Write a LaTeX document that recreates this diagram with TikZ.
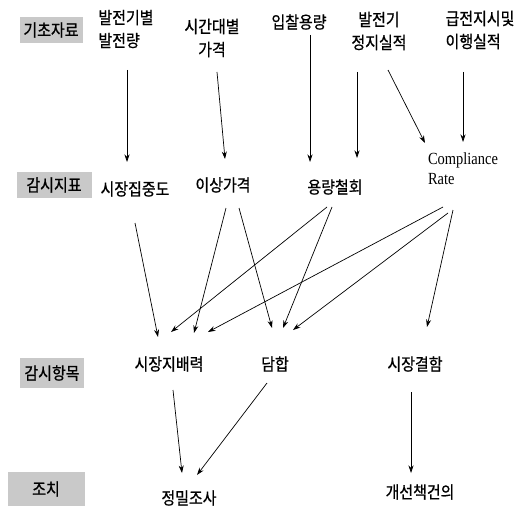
\documentclass[tikz,border=0pt]{standalone}
\usepackage{fontspec}
\usetikzlibrary{arrows.meta}
\newfontfamily\kr[FakeStretch=0.88,FakeBold=0.8]{Noto Sans CJK KR}
\newfontfamily\rom[FakeStretch=0.85]{Liberation Serif}

\begin{document}
\begin{tikzpicture}[x=1pt,y=-1pt,
    lbl/.style={fill=gray!42, inner sep=0pt, font=\kr\fontsize{17}{22}\selectfont},
    txt/.style={inner sep=0pt, font=\kr\fontsize{17}{23}\selectfont},
    arr/.style={-{Stealth[length=7.5pt,width=5pt]}, line width=0.7pt}]
      \useasboundingbox (0,0) rectangle (521,508);
        % row labels
      \node[lbl, minimum width=63pt, minimum height=26pt] (basic) at (51,30) {기초자료};
      \node[lbl, minimum width=75pt, minimum height=26pt] (mon) at (54,185) {감시지표};
      \node[lbl, minimum width=64pt, minimum height=30pt] (item) at (52,373) {감시항목};
      \node[lbl, minimum width=77pt, minimum height=34pt] (act) at (46,489) {조치};
        % basic data
      \node[txt, align=left] (gen) at (126,29) {발전기별\\발전량};
      \node[txt, align=center] (price) at (212,38) {시간대별\\가격};
      \node[txt] (bid) at (299,22) {입찰용량};
      \node[txt, align=center] (outage) at (379,31) {발전기\\정지실적};
      \node[txt, align=left] (disp) at (480,30) {급전지시및\\이행실적};
        % indicators
      \node[txt] (conc) at (135,189) {시장집중도};
      \node[txt] (abn) at (223,185) {이상가격};
      \node[txt] (wd) at (335,187) {용량철회};
      \node[inner sep=0pt, align=left, font=\rom\fontsize{17}{20}\selectfont] (cr) at (463,169) {Compliance\\Rate};
        % items
      \node[txt] (mp) at (169,364) {시장지배력};
      \node[txt] (col) at (275,364) {담합};
      \node[txt] (def) at (415,364) {시장결함};
        % actions
      \node[txt] (inv) at (189,498) {정밀조사};
      \node[txt] (prop) at (420,492) {개선책건의};
        % data -> indicators
      \draw[arr] ([shift={(1,41)}]gen.center) -- ([shift={(-8,-27)}]conc.center);
      \draw[arr] ([shift={(5,34)}]price.center) -- ([shift={(2,-26)}]abn.center);
      \draw[arr] ([shift={(11,13)}]bid.center) -- ([shift={(-25,-25)}]wd.center);
      \draw[arr] ([shift={(-22,41)}]outage.center) -- ([shift={(22,-29)}]wd.center);
      \draw[arr] ([shift={(9,39)}]outage.center) -- ([shift={(-38,-26)}]cr.center);
      \draw[arr] ([shift={(-17,42)}]disp.center) -- ([shift={(0,-27)}]cr.center);
        % indicators -> items
      \draw[arr] ([shift={(0,34)}]conc.center) -- ([shift={(-11,-27)}]mp.center);
      \draw[arr] ([shift={(3,23)}]abn.center) -- ([shift={(25,-31)}]mp.center);
      \draw[arr] ([shift={(16,23)}]abn.center) -- ([shift={(-3,-36)}]col.center);
      \draw[arr] ([shift={(-8,20)}]wd.center) -- ([shift={(2,-32)}]mp.center);
      \draw[arr] ([shift={(-3,20)}]wd.center) -- ([shift={(8,-36)}]col.center);
      \draw[arr] ([shift={(-20,38)}]cr.center) -- ([shift={(39,-32)}]mp.center);
      \draw[arr] ([shift={(-15,44)}]cr.center) -- ([shift={(18,-34)}]col.center);
      \draw[arr] ([shift={(-10,41)}]cr.center) -- ([shift={(12,-37)}]def.center);
        % items -> actions
      \draw[arr] ([shift={(4,26)}]mp.center) -- ([shift={(-7,-25)}]inv.center);
      \draw[arr] ([shift={(-8,19)}]col.center) -- ([shift={(8,-23)}]inv.center);
      \draw[arr] ([shift={(-4,28)}]def.center) -- ([shift={(-9,-19)}]prop.center);
    \end{tikzpicture}
\end{document}
